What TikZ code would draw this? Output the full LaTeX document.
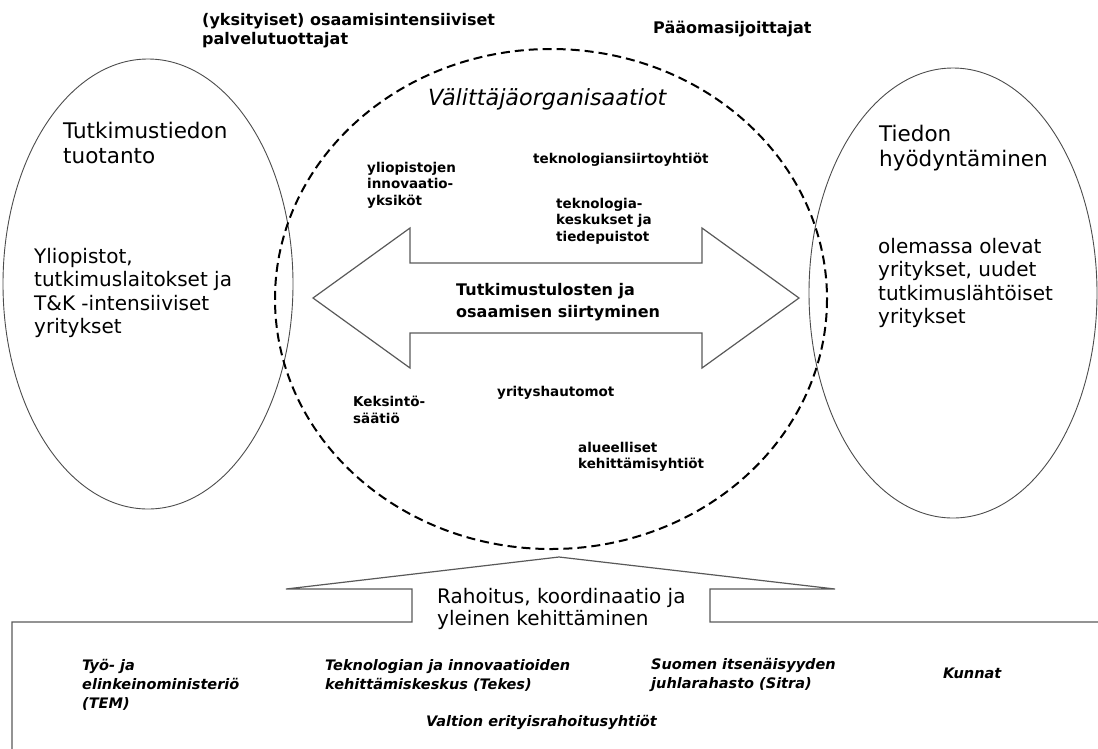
\documentclass[tikz,border=0pt]{standalone}
\usepackage{fontspec}
\setmainfont{DejaVu Sans}

\tikzset{
  lbl/.style={inner sep=0pt, anchor=north west, align=left},
  headtxt/.style={lbl, font=\fontsize{21.5}{25}\selectfont},
  bodytxt/.style={lbl, font=\fontsize{20}{23.5}\selectfont},
  toptxt/.style={lbl, font=\bfseries\fontsize{16}{19.5}\selectfont},
  orgtxt/.style={lbl, font=\bfseries\fontsize{13.5}{16.5}\selectfont},
  fundtxt/.style={lbl, font=\bfseries\itshape\fontsize{14.5}{19}\selectfont},
  oval/.style={line width=0.9pt, black!70},
  zone/.style={line width=2pt, dash pattern=on 9pt off 5pt},
  outline/.style={line width=1.2pt, black!65, line join=miter}
}

\begin{document}
\begin{tikzpicture}[x=1pt, y=-1pt]
\useasboundingbox (0,0) rectangle (1098,748);

% the three areas
\coordinate (prod) at (148,284);
\coordinate (use) at (953,293);
\coordinate (mid) at (551,299);
\draw[oval] (prod) ellipse [x radius=145, y radius=225];
\draw[oval] (use) ellipse [x radius=144, y radius=225];
\draw[zone] (mid) ellipse [x radius=276, y radius=250];

% double arrow
\draw[outline] (313,298) -- (410,228) -- (410,263) -- (702,263) -- (702,228)
  -- (799,298) -- (702,368) -- (702,333) -- (410,333) -- (410,368) -- cycle;

% funding box
\draw[outline] (12,750) -- (12,622) -- (412,622) -- (412,589) -- (286,589)
  -- (559,557) -- (835,589) -- (710,589) -- (710,622) -- (1100,622);

% texts outside
\node[toptxt] (kibs) at (202,13) {(yksityiset) osaamisintensiiviset\\palvelutuottajat};
\node[toptxt] (vc) at (653,21) {Pääomasijoittajat};
\node[headtxt, font=\itshape\fontsize{22.3}{25}\selectfont] (inter) at (428,88) {Välittäjäorganisaatiot};

% left ellipse
\node[headtxt] (prodhead) at (63,122) {Tutkimustiedon\\tuotanto};
\node[bodytxt] (prodbody) at (34,248) {Yliopistot,\\tutkimuslaitokset ja\\T\&K -intensiiviset\\yritykset};

% right ellipse
\node[headtxt] (usehead) at (879,125) {Tiedon\\hyödyntäminen};
\node[bodytxt] (usebody) at (878,238) {olemassa olevat\\yritykset, uudet\\tutkimuslähtöiset\\yritykset};

% organisations in the middle
\node[orgtxt] (univ) at (367,162) {yliopistojen\\innovaatio-\\yksiköt};
\node[orgtxt] (tto) at (533,153) {teknologiansiirtoyhtiöt};
\node[orgtxt] (parks) at (556,198) {teknologia-\\keskukset ja\\tiedepuistot};
\node[orgtxt] (found) at (353,396) {Keksintö-\\säätiö};
\node[orgtxt] (incub) at (497,386) {yrityshautomot};
\node[orgtxt] (regdev) at (578,442) {alueelliset\\kehittämisyhtiöt};

\node[toptxt, font=\bfseries\fontsize{16}{22}\selectfont] (transfer) at (456,283) {Tutkimustulosten ja\\osaamisen siirtyminen};

% funding
\node[bodytxt, font=\fontsize{20}{22}\selectfont] (fund) at (437,588) {Rahoitus, koordinaatio ja\\yleinen kehittäminen};
\node[fundtxt] (tem) at (82,659) {Työ- ja\\elinkeinoministeriö\\(TEM)};
\node[fundtxt] (tekes) at (325,659) {Teknologian ja innovaatioiden\\kehittämiskeskus (Tekes)};
\node[fundtxt] (sitra) at (651,658) {Suomen itsenäisyyden\\juhlarahasto (Sitra)};
\node[fundtxt] (kunnat) at (943,668) {Kunnat};
\node[fundtxt] (valtion) at (426,715) {Valtion erityisrahoitusyhtiöt};
\end{tikzpicture}
\end{document}
